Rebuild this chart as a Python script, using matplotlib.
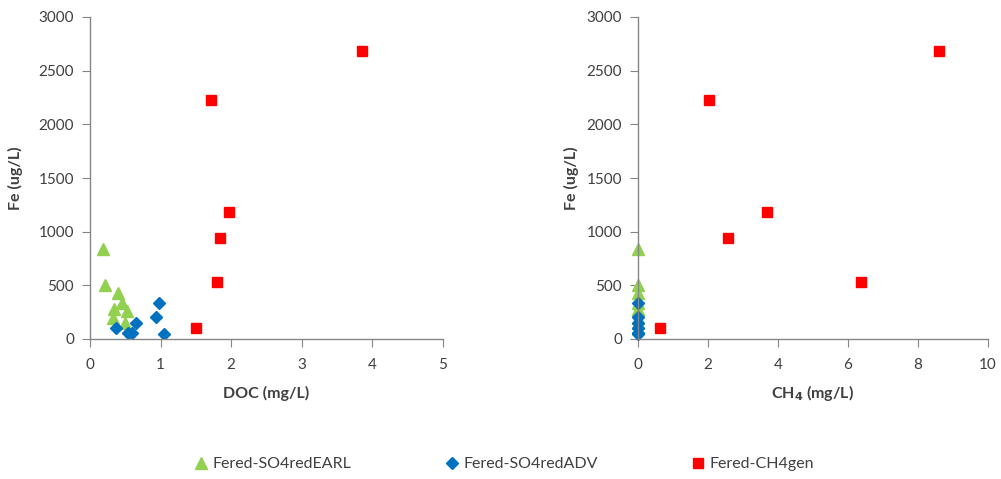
import matplotlib
matplotlib.use("Agg")
import matplotlib.pyplot as plt

plt.rcParams['font.family'] = ['Lato', 'DejaVu Sans']

# Data
earl_doc = [0.19, 0.21, 0.40, 0.46, 0.52, 0.34, 0.32, 0.49]
earl_fe = [840, 500, 430, 333, 261, 277, 193, 152]
earl_ch4 = [0, 0, 0, 0, 0, 0, 0, 0]

adv_doc = [0.37, 0.54, 0.60, 0.65, 0.98, 0.94, 1.05]
adv_fe = [100, 59, 53, 146, 333, 208, 47]
adv_ch4 = [0, 0, 0, 0, 0, 0, 0]

ch4gen_doc = [1.50, 1.71, 1.84, 1.97, 1.80, 3.85]
ch4gen_fe = [100, 2230, 940, 1180, 530, 2680]
ch4gen_ch4 = [0.63, 2.03, 2.57, 3.69, 6.37, 8.60]

series_names = ["Fered-SO4redEARL", "Fered-SO4redADV", "Fered-CH4gen"]

fig = plt.figure(figsize=(10.01, 4.79), dpi=100)
ax1 = fig.add_axes([90/1001, 140/479, 353/1001, 322/479])
ax2 = fig.add_axes([638/1001, 140/479, 350/1001, 322/479])

green = "#92D050"
blue = "#0070C0"
red = "#FF0000"
gray = "#868686"
txt = "#404040"

def style(ax, xmax, xstep, ylab_x):
    ax.set_ylim(0, 3000)
    ax.set_xlim(0, xmax)
    ax.set_yticks(range(0, 3001, 500))
    ax.set_xticks([i * xstep for i in range(int(xmax / xstep) + 1)])
    for s in ["top", "right"]:
        ax.spines[s].set_visible(False)
    for s in ["left", "bottom"]:
        ax.spines[s].set_color(gray)
        ax.spines[s].set_linewidth(1.0)
    ax.tick_params(colors=gray, labelcolor=txt, labelsize=11, length=5.5, direction="out")
    ax.tick_params(axis="y", pad=6)
    ax.tick_params(axis="x", pad=8)
    ax.set_ylabel("Fe (ug/L)", fontsize=11.5, fontweight="bold", color=txt)
    ax.yaxis.set_label_coords(ylab_x, 0.5)
    ax.yaxis.label.set_va("center")
    ax.xaxis.set_label_coords(0.5, -0.168)
    ax.xaxis.label.set_va("center")

h = []
h.append(ax1.plot(earl_doc, earl_fe, "^", color=green, ms=9, ls="none", label=series_names[0])[0])
h.append(ax1.plot(adv_doc, adv_fe, "D", color=blue, ms=6.5, ls="none", label=series_names[1])[0])
h.append(ax1.plot(ch4gen_doc, ch4gen_fe, "s", color=red, ms=6.5, ls="none", label=series_names[2])[0])
ax2.plot(earl_ch4, earl_fe, "^", color=green, ms=9, ls="none", clip_on=False)
ax2.plot(adv_ch4, adv_fe, "D", color=blue, ms=6.5, ls="none", clip_on=False)
ax2.plot(ch4gen_ch4, ch4gen_fe, "s", color=red, ms=6.5, ls="none")

ax1.set_xlabel("DOC (mg/L)", fontsize=11.5, fontweight="bold", color=txt)
ax2.set_xlabel("CH$_\\mathbf{4}$ (mg/L)", fontsize=11.5, fontweight="bold", color=txt)
style(ax1, 5, 1, -0.21)
style(ax2, 10, 2, -0.189)

fig.legend(h, series_names, loc="center", bbox_to_anchor=(0.503, 1 - 464/479), ncol=3,
           frameon=False, fontsize=11.5, columnspacing=5.8, handletextpad=0.2, handlelength=1.0,
           labelcolor=txt)

fig.savefig("out.png", dpi=100)
